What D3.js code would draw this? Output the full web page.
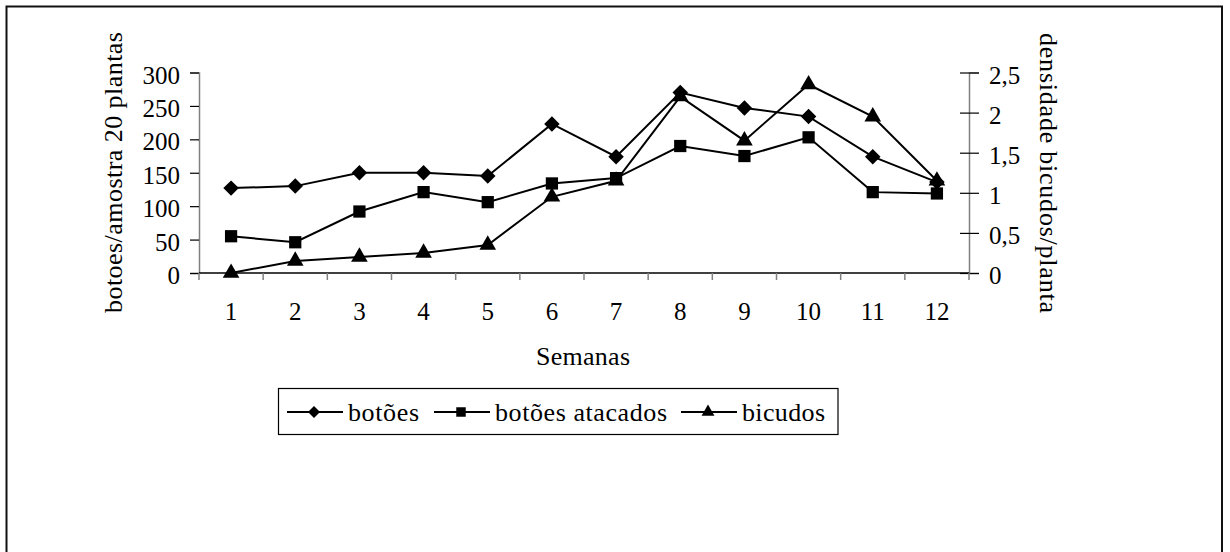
<!DOCTYPE html>
<html>
<head>
<meta charset="utf-8">
<script src="https://cdn.jsdelivr.net/npm/d3@7"></script>
<style>
  body { margin: 0; background: #fff; }
  svg text { font-family: 'Liberation Serif', 'DejaVu Serif', serif; fill: #000; }
</style>
</head>
<body>
<script>
// weeks and series
var semanas = [1,2,3,4,5,6,7,8,9,10,11,12];
var botoes = [127,130,150,150,145,223,174,270,247,234,174,136];
var botoesAtacados = [55,46,92,121,106,134,142,190,175,203,121,119];
var bicudos = [0,0.15,0.2,0.25,0.35,0.95,1.15,2.2,1.65,2.35,1.95,1.15];
var leftTicks = [0,50,100,150,200,250,300];
var rightTicks = [0,0.5,1,1.5,2,2.5];

var width = 1230, height = 552;
var serif = "'Liberation Serif', 'DejaVu Serif', serif";
var svg = d3.select("body").append("svg")
    .attr("width", width)
    .attr("height", height);

// outer frame
svg.append("rect")
    .attr("x", 6.5).attr("y", 6.5)
    .attr("width", 1215.5).attr("height", 560)
    .attr("fill", "none").attr("stroke", "#111").attr("stroke-width", 2);

var plotL = 199, plotR = 969, plotT = 72.5, plotB = 273;

var x = d3.scaleBand().domain(semanas).range([plotL, plotR]);
var yL = d3.scaleLinear().domain([0, 300]).range([plotB, plotT]);
var yR = d3.scaleLinear().domain([0, 2.5]).range([plotB, plotT]);

// left axis
var gl = svg.append("g").attr("transform", "translate(" + plotL + ",0)")
    .call(d3.axisLeft(yL).tickValues(leftTicks).tickSize(9).tickPadding(10));
gl.attr("font-family", serif).attr("font-size", 25);
gl.select(".domain").attr("stroke", "#808080").attr("stroke-width", 1.5);
gl.selectAll(".tick line").attr("stroke", "#000").attr("stroke-width", 1.2);
gl.selectAll(".tick text").attr("dy", "0.42em");

// right axis
var gr = svg.append("g").attr("transform", "translate(" + plotR + ",0)")
    .call(d3.axisRight(yR).tickValues(rightTicks).tickSize(10).tickPadding(10)
        .tickFormat(function(d){ return String(d).replace(".", ","); }));
gr.attr("font-family", serif).attr("font-size", 25);
gr.select(".domain").attr("stroke", "#808080").attr("stroke-width", 1.5);
gr.selectAll(".tick line").attr("x1", -9).attr("stroke", "#000").attr("stroke-width", 1.2);
gr.selectAll(".tick text").attr("dy", "0.42em");

// bottom axis: ticks between categories
var gb = svg.append("g").attr("transform", "translate(0," + plotB + ")")
    .call(d3.axisBottom(x).tickSize(0).tickPadding(29));
gb.attr("font-family", serif).attr("font-size", 25);
gb.select(".domain").remove();
svg.append("line")
    .attr("x1", plotL).attr("x2", plotR)
    .attr("y1", plotB).attr("y2", plotB)
    .attr("stroke", "#000").attr("stroke-width", 1.5);
var edges = semanas.map(function(d){ return x(d); }).concat([plotR]);
svg.selectAll(".xtick").data(edges).enter().append("line")
    .attr("class", "xtick")
    .attr("x1", function(d){ return d; }).attr("x2", function(d){ return d; })
    .attr("y1", plotB).attr("y2", plotB + 7)
    .attr("stroke", "#808080").attr("stroke-width", 1.5);

// axis titles
svg.append("text")
    .attr("transform", "translate(122,172.5) rotate(-90)")
    .attr("text-anchor", "middle")
    .attr("font-size", 26)
    .attr("textLength", 281).attr("lengthAdjust", "spacing")
    .text("botoes/amostra 20 plantas");
svg.append("text")
    .attr("transform", "translate(1040,173) rotate(90)")
    .attr("text-anchor", "middle")
    .attr("font-size", 26)
    .attr("textLength", 280).attr("lengthAdjust", "spacing")
    .text("densidade bicudos/planta");
svg.append("text")
    .attr("x", 583).attr("y", 365)
    .attr("text-anchor", "middle")
    .attr("font-size", 26)
    .attr("textLength", 94).attr("lengthAdjust", "spacing")
    .text("Semanas");

var cx = function(d, i){ return x(semanas[i]) + x.bandwidth() / 2; };

var series = [
    {name: "botões", values: botoes, y: yL, sym: d3.symbolSquare, rot: 45, size: 120, legSize: 72, len: 71},
    {name: "botões atacados", values: botoesAtacados, y: yL, sym: d3.symbolSquare, rot: 0, size: 150, legSize: 90, len: 172},
    {name: "bicudos", values: bicudos, y: yR, sym: d3.symbolTriangle, rot: 0, size: 120, legSize: 72, len: 83}
];

series.forEach(function(s){
    var line = d3.line()
        .x(cx)
        .y(function(d){ return s.y(d); });
    svg.append("path")
        .datum(s.values)
        .attr("d", line)
        .attr("fill", "none")
        .attr("stroke", "#000")
        .attr("stroke-width", 2);
});

series.forEach(function(s){
    svg.selectAll(null).data(s.values).enter().append("path")
        .attr("d", d3.symbol().type(s.sym).size(s.size))
        .attr("transform", function(d, i){
            return "translate(" + cx(d, i) + "," + s.y(d) + ") rotate(" + s.rot + ")";
        })
        .attr("fill", "#000");
});

// legend
var legend = svg.append("g");
legend.append("rect")
    .attr("x", 278.5).attr("y", 388.5)
    .attr("width", 559.5).attr("height", 46)
    .attr("fill", "#fff").attr("stroke", "#000").attr("stroke-width", 1.2);
var legX = [287, 434, 681];
series.forEach(function(s, i){
    var g = legend.append("g").attr("transform", "translate(" + legX[i] + ",412)");
    g.append("line").attr("x1", 0).attr("x2", 56)
        .attr("stroke", "#000").attr("stroke-width", 2);
    g.append("path")
        .attr("d", d3.symbol().type(s.sym).size(s.legSize))
        .attr("transform", "translate(27,0) rotate(" + s.rot + ")")
        .attr("fill", "#000");
    g.append("text")
        .attr("x", 61).attr("y", 9)
        .attr("font-size", 26)
        .attr("textLength", s.len).attr("lengthAdjust", "spacing")
        .text(s.name);
});
</script>
</body>
</html>
